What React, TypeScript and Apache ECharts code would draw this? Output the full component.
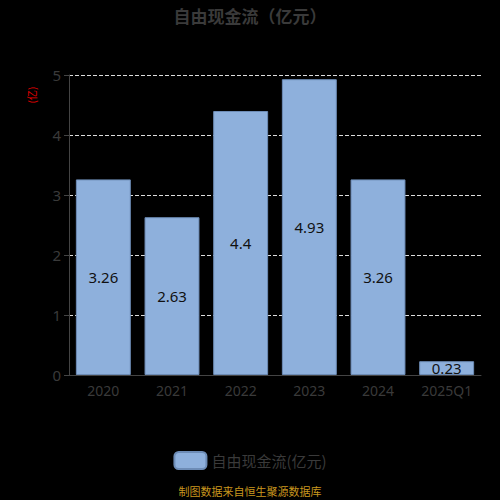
import { useEffect, useRef } from "react";
import * as echarts from "echarts";

const categories = ["2020", "2021", "2022", "2023", "2024", "2025Q1"];
const values = [3.26, 2.63, 4.4, 4.93, 3.26, 0.23];
const seriesName = "自由现金流(亿元)";

export default function App() {
  const chartRef = useRef<HTMLDivElement>(null);

  useEffect(() => {
    document.body.style.margin = "0";
    document.body.style.background = "#000";
    if (!chartRef.current) return;
    const chart = echarts.init(chartRef.current, null, { renderer: "svg" });
    chart.setOption({
      animation: false,
      backgroundColor: "#000",
      title: {
        text: "自由现金流（亿元）",
        left: "center",
        top: 2,
        textStyle: { color: "#3a3a3a", fontSize: 17, fontWeight: "bold", fontFamily: "Noto Sans CJK SC" },
      },
      legend: {
        top: 446,
        itemWidth: 32,
        itemHeight: 17,
        icon: "roundRect",
        textStyle: { color: "#3a3a3a", fontSize: 15, fontFamily: "Noto Sans CJK SC" },
        data: [seriesName],
      },
      graphic: [
        {
          type: "text",
          left: "center",
          top: 485,
          style: { text: "制图数据来自恒生聚源数据库", fill: "#c8961e", fontSize: 11, fontFamily: "Noto Sans CJK SC" },
        },
        {
          type: "text",
          x: 31,
          y: 95,
          rotation: Math.PI / 2,
          style: { text: "(亿)", fill: "#e00", fontSize: 10, align: "center", verticalAlign: "middle", fontFamily: "Noto Sans CJK SC" },
        },
      ],
      grid: { left: 69, right: 19, top: 75, bottom: 125 },
      xAxis: {
        type: "category",
        data: categories,
        axisLine: { lineStyle: { color: "#444" } },
        axisTick: { lineStyle: { color: "#444" } },
        axisLabel: { color: "#3a3a3a", fontSize: 14, margin: 8, interval: 0, fontFamily: "Noto Sans" },
      },
      yAxis: {
        type: "value",
        min: 0,
        max: 5,
        interval: 1,
        axisLine: { show: true, lineStyle: { color: "#444" } },
        axisTick: { show: true, lineStyle: { color: "#444" } },
        axisLabel: { color: "#3a3a3a", fontSize: 15, fontFamily: "Noto Sans" },
        splitLine: { lineStyle: { color: "#ddd", type: "dashed" } },
      },
      series: [
        {
          name: seriesName,
          type: "bar",
          data: values,
          barWidth: "80%",
          itemStyle: { color: "#8eb0dc", borderColor: "#6d8cb6", borderWidth: 1 },
          label: {
            show: true,
            position: "inside",
            color: "#111",
            fontSize: 15,
            fontFamily: "Noto Sans",
          },
        },
      ],
    });
    return () => chart.dispose();
  }, []);

  return <div ref={chartRef} style={{ width: 500, height: 500 }} />;
}
